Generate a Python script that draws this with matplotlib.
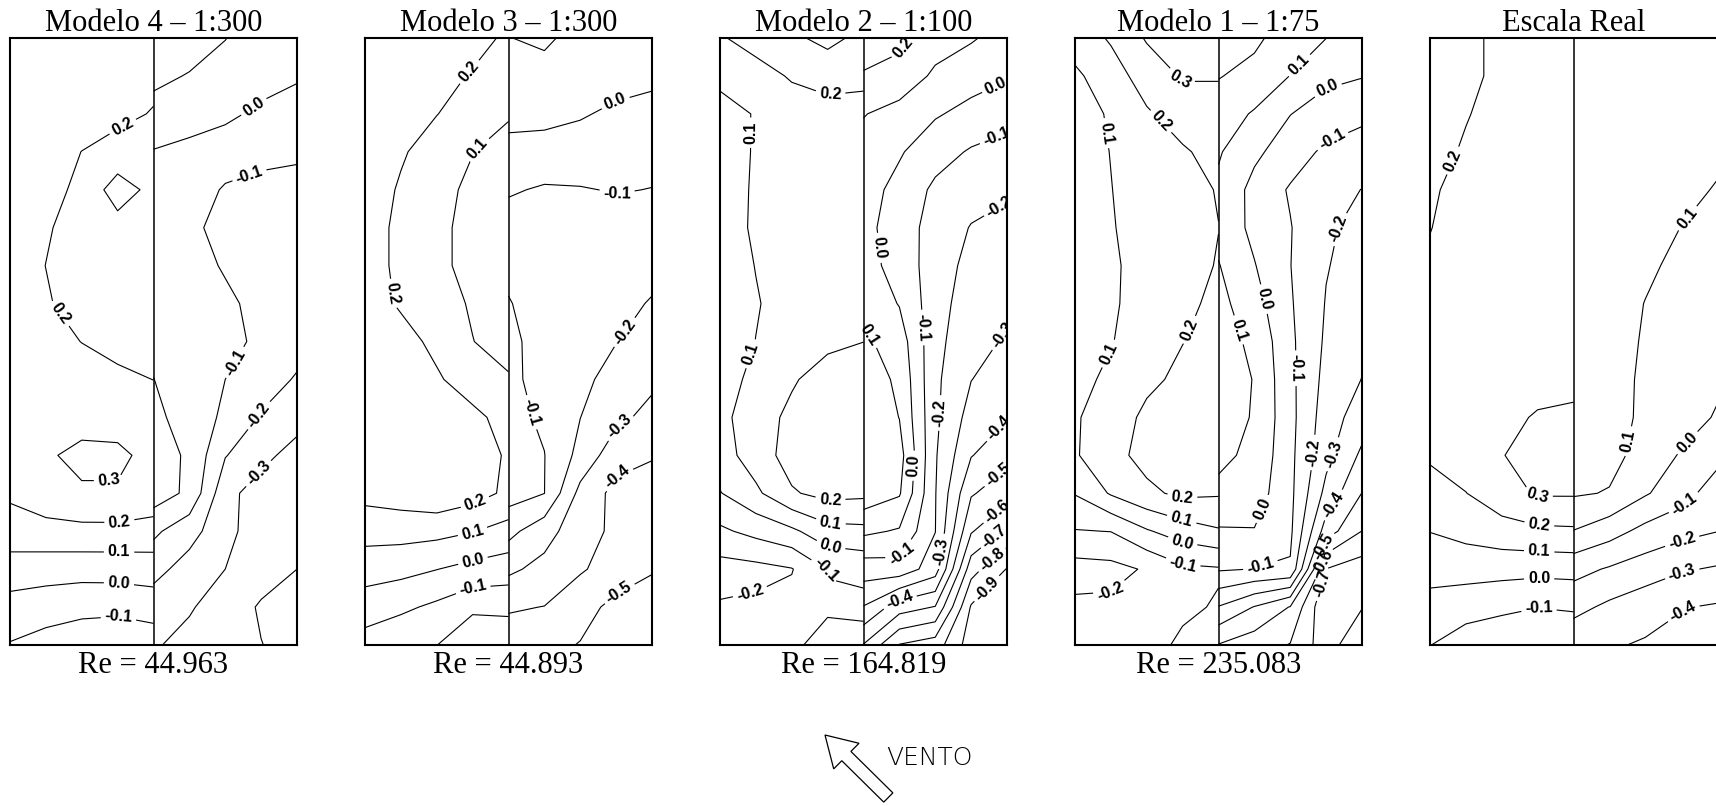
import matplotlib.pyplot as plt
import numpy as np
from matplotlib.patches import FancyArrow

plt.rcParams['font.family'] = ['Liberation Sans', 'DejaVu Sans']
plt.rcParams['font.weight'] = 'bold'
plt.rcParams['contour.negative_linestyle'] = 'solid'

# Cp grids for each facade half: 17 rows (top -> bottom) x 5 columns (left -> right)
m4_left = [
    [0.26, 0.26, 0.25, 0.24, 0.23],
    [0.26, 0.26, 0.25, 0.23, 0.22],
    [0.26, 0.25, 0.24, 0.22, 0.195],
    [0.26, 0.24, 0.199, 0.17, 0.15],
    [0.26, 0.23, 0.18, 0.05, 0.13],
    [0.25, 0.21, 0.16, 0.14, 0.14],
    [0.25, 0.199, 0.15, 0.14, 0.14],
    [0.25, 0.21, 0.16, 0.15, 0.15],
    [0.26, 0.24, 0.198, 0.17, 0.16],
    [0.27, 0.26, 0.25, 0.22, 0.199],
    [0.27, 0.27, 0.27, 0.26, 0.25],
    [0.26, 0.29, 0.32, 0.32, 0.27],
    [0.21, 0.25, 0.29, 0.29, 0.24],
    [0.172, 0.172, 0.172, 0.173, 0.175],
    [0.04, 0.04, 0.04, 0.04, 0.04],
    [-0.028, -0.05, -0.073, -0.07, -0.045],
    [-0.107, -0.142, -0.159, -0.19, -0.173],
]
m4_right = [
    [0.16, 0.14, 0.102, 0.06, 0.03],
    [0.12, 0.095, 0.07, 0.04, 0.01],
    [0.07, 0.05, 0.02, -0.02, -0.04],
    [-0.005, -0.03, -0.05, -0.07, -0.08],
    [-0.02, -0.05, -0.11, -0.13, -0.14],
    [-0.03, -0.08, -0.13, -0.15, -0.15],
    [-0.03, -0.06, -0.11, -0.15, -0.16],
    [-0.03, -0.04, -0.08, -0.13, -0.16],
    [-0.02, -0.03, -0.07, -0.12, -0.16],
    [0.001, -0.04, -0.1, -0.15, -0.21],
    [0.03, -0.053, -0.115, -0.21, -0.26],
    [0.05, -0.016, -0.195, -0.27, -0.34],
    [0.05, -0.02, -0.27, -0.345, -0.37],
    [-0.08, -0.163, -0.267, -0.36, -0.38],
    [-0.168, -0.24, -0.3, -0.36, -0.4],
    [-0.25, -0.29, -0.35, -0.41, -0.44],
    [-0.29, -0.33, -0.37, -0.398, -0.43],
]
m3_left = [
    [0.29, 0.28, 0.26, 0.24, 0.18],
    [0.29, 0.27, 0.24, 0.19, 0.15],
    [0.285, 0.25, 0.202, 0.16, 0.11],
    [0.27, 0.21, 0.16, 0.102, 0.06],
    [0.25, 0.19, 0.13, 0.08, 0.05],
    [0.24, 0.18, 0.115, 0.08, 0.05],
    [0.24, 0.18, 0.115, 0.08, 0.05],
    [0.24, 0.19, 0.14, 0.09, 0.05],
    [0.26, 0.23, 0.18, 0.102, 0.06],
    [0.27, 0.25, 0.21, 0.16, 0.11],
    [0.28, 0.27, 0.25, 0.22, 0.17],
    [0.28, 0.27, 0.26, 0.24, 0.19],
    [0.23, 0.25, 0.276, 0.24, 0.18],
    [0.138, 0.138, 0.13, 0.104, 0.065],
    [0.043, 0.03, 0.002, -0.03, -0.05],
    [-0.049, -0.08, -0.12, -0.175, -0.17],
    [-0.143, -0.18, -0.198, -0.3, -0.29],
]
m3_right = [
    [0.098, 0.115, 0.07, 0.05, 0.04],
    [0.07, 0.07, 0.06, 0.04, 0.02],
    [0.04, 0.03, 0.01, -0.02, -0.03],
    [-0.04, -0.04, -0.05, -0.06, -0.07],
    [-0.09, -0.11, -0.105, -0.095, -0.102],
    [-0.14, -0.15, -0.15, -0.14, -0.14],
    [-0.12, -0.15, -0.16, -0.17, -0.18],
    [-0.095, -0.14, -0.16, -0.18, -0.205],
    [-0.085, -0.125, -0.16, -0.198, -0.23],
    [-0.08, -0.13, -0.18, -0.23, -0.28],
    [-0.07, -0.115, -0.199, -0.275, -0.33],
    [-0.06, -0.098, -0.23, -0.36, -0.39],
    [-0.06, -0.099, -0.33, -0.43, -0.46],
    [-0.172, -0.26, -0.36, -0.42, -0.46],
    [-0.281, -0.33, -0.39, -0.44, -0.49],
    [-0.39, -0.402, -0.46, -0.53, -0.56],
    [-0.45, -0.47, -0.505, -0.56, -0.6],
]
m2_left = [
    [0.19, 0.24, 0.28, 0.33, 0.27],
    [0.12, 0.16, 0.21, 0.23, 0.22],
    [0.07, 0.105, 0.15, 0.17, 0.17],
    [0.06, 0.107, 0.15, 0.17, 0.17],
    [0.06, 0.11, 0.15, 0.17, 0.17],
    [0.06, 0.112, 0.15, 0.17, 0.17],
    [0.06, 0.102, 0.14, 0.17, 0.18],
    [0.06, 0.095, 0.13, 0.17, 0.18],
    [0.06, 0.101, 0.14, 0.18, 0.199],
    [0.05, 0.13, 0.19, 0.24, 0.26],
    [0.07, 0.16, 0.22, 0.27, 0.28],
    [0.055, 0.15, 0.24, 0.28, 0.29],
    [-0.005, 0.08, 0.19, 0.23, 0.22],
    [-0.118, -0.07, -0.02, 0.065, 0.075],
    [-0.24, -0.23, -0.205, -0.095, -0.07],
    [-0.19, -0.18, -0.17, -0.115, -0.13],
    [-0.15, -0.14, -0.12, -0.06, -0.05],
]
m2_right = [
    [0.26, 0.22, 0.15, 0.11, 0.06],
    [0.19, 0.17, 0.08, 0.04, 0.01],
    [0.105, 0.06, 0.01, -0.03, -0.07],
    [0.06, 0.01, -0.06, -0.11, -0.13],
    [0.04, -0.03, -0.12, -0.16, -0.19],
    [0.03, -0.05, -0.14, -0.205, -0.22],
    [0.04, -0.04, -0.15, -0.23, -0.25],
    [0.07, -0.005, -0.16, -0.25, -0.28],
    [0.12, 0.05, -0.17, -0.27, -0.31],
    [0.16, 0.08, -0.18, -0.298, -0.35],
    [0.19, 0.098, -0.18, -0.34, -0.395],
    [0.19, 0.14, -0.19, -0.395, -0.47],
    [0.16, 0.11, -0.195, -0.49, -0.56],
    [0.02, -0.01, -0.198, -0.59, -0.72],
    [-0.15, -0.14, -0.25, -0.76, -0.905],
    [-0.305, -0.455, -0.505, -0.91, -0.98],
    [-0.505, -0.705, -0.75, -0.95, -1.0],
]
m1_left = [
    [0.15, 0.21, 0.31, 0.34, 0.36],
    [0.08, 0.16, 0.24, 0.31, 0.305],
    [0.06, 0.11, 0.19, 0.24, 0.27],
    [0.06, 0.102, 0.15, 0.19, 0.23],
    [0.06, 0.098, 0.14, 0.17, 0.205],
    [0.06, 0.095, 0.13, 0.17, 0.199],
    [0.06, 0.09, 0.125, 0.17, 0.205],
    [0.06, 0.09, 0.13, 0.18, 0.22],
    [0.06, 0.095, 0.15, 0.198, 0.23],
    [0.07, 0.12, 0.18, 0.22, 0.24],
    [0.09, 0.15, 0.22, 0.24, 0.25],
    [0.09, 0.17, 0.23, 0.25, 0.25],
    [0.005, 0.11, 0.18, 0.22, 0.21],
    [-0.105, -0.098, -0.01, 0.05, 0.09],
    [-0.24, -0.23, -0.19, -0.12, -0.11],
    [-0.18, -0.18, -0.17, -0.12, -0.09],
    [-0.15, -0.15, -0.14, -0.08, -0.06],
]
m1_right = [
    [0.26, 0.22, 0.15, 0.101, 0.05],
    [0.205, 0.17, 0.098, 0.02, 0.005],
    [0.15, 0.09, 0.002, -0.04, -0.08],
    [0.11, 0.02, -0.05, -0.12, -0.14],
    [0.08, -0.03, -0.11, -0.16, -0.202],
    [0.07, -0.025, -0.095, -0.19, -0.22],
    [0.105, 0.005, -0.098, -0.195, -0.24],
    [0.13, 0.04, -0.09, -0.205, -0.26],
    [0.14, 0.08, -0.08, -0.215, -0.28],
    [0.14, 0.097, -0.075, -0.23, -0.302],
    [0.13, 0.095, -0.07, -0.25, -0.35],
    [0.12, 0.08, -0.075, -0.27, -0.42],
    [0.08, 0.05, -0.075, -0.33, -0.502],
    [-0.01, -0.005, -0.08, -0.45, -0.602],
    [-0.09, -0.102, -0.11, -0.702, -0.75],
    [-0.305, -0.405, -0.505, -0.79, -0.705],
    [-0.505, -0.555, -0.605, -0.755, -0.605],
]
real_left = [
    [0.15, 0.18, 0.22, 0.23, 0.24],
    [0.15, 0.18, 0.22, 0.235, 0.24],
    [0.16, 0.195, 0.23, 0.24, 0.245],
    [0.17, 0.21, 0.235, 0.245, 0.25],
    [0.19, 0.225, 0.24, 0.25, 0.25],
    [0.198, 0.23, 0.245, 0.25, 0.25],
    [0.21, 0.235, 0.25, 0.255, 0.26],
    [0.22, 0.24, 0.255, 0.26, 0.265],
    [0.22, 0.24, 0.26, 0.27, 0.275],
    [0.22, 0.245, 0.265, 0.28, 0.285],
    [0.22, 0.25, 0.285, 0.305, 0.31],
    [0.21, 0.25, 0.298, 0.32, 0.32],
    [0.17, 0.198, 0.26, 0.31, 0.31],
    [0.102, 0.13, 0.16, 0.18, 0.185],
    [0.04, 0.04, 0.035, 0.03, 0.035],
    [-0.04, -0.06, -0.08, -0.098, -0.09],
    [-0.098, -0.15, -0.17, -0.18, -0.17],
]
real_right = [
    [0.19, 0.18, 0.17, 0.16, 0.15],
    [0.19, 0.175, 0.165, 0.155, 0.14],
    [0.185, 0.17, 0.16, 0.145, 0.13],
    [0.18, 0.165, 0.15, 0.13, 0.115],
    [0.18, 0.16, 0.14, 0.12, 0.095],
    [0.175, 0.155, 0.13, 0.099, 0.08],
    [0.17, 0.15, 0.115, 0.08, 0.07],
    [0.17, 0.14, 0.098, 0.07, 0.06],
    [0.17, 0.135, 0.092, 0.07, 0.06],
    [0.17, 0.135, 0.085, 0.065, 0.02],
    [0.17, 0.13, 0.085, 0.05, -0.01],
    [0.16, 0.125, 0.07, -0.01, -0.07],
    [0.11, 0.095, 0.01, -0.06, -0.15],
    [-0.003, -0.06, -0.13, -0.17, -0.198],
    [-0.167, -0.21, -0.25, -0.29, -0.31],
    [-0.27, -0.32, -0.36, -0.395, -0.41],
    [-0.37, -0.39, -0.41, -0.43, -0.44],
]

# contour labels: (level, u, v) with u across the half and v down the facade
m4_left_labels = [(0.2, .77, .139), (0.2, .37, .451), (0.3, .69, .738), (0.2, .76, .794),
                  (0.1, .76, .848), (0.0, .76, .897), (-0.1, .76, .949)]
m4_right_labels = [(0.0, .71, .117), (-0.1, .67, .227), (-0.1, .58, .536),
                   (-0.2, .73, .621), (-0.3, .69, .708)]
m3_left_labels = [(0.2, .71, .052), (0.1, .78, .181), (0.2, .17, .422), (0.2, .77, .767),
                  (0.1, .75, .814), (0.0, .75, .859), (-0.1, .75, .903)]
m3_right_labels = [(0.0, .77, .117), (-0.1, .76, .262), (-0.1, .17, .616), (-0.2, .78, .48),
                   (-0.3, .76, .637), (-0.4, .75, .72), (-0.5, .77, .914)]
m2_left_labels = [(0.2, .77, .096), (0.1, .23, .156), (0.1, .25, .523), (0.2, .77, .767),
                  (0.1, .77, .8), (0.0, .77, .836), (-0.1, .76, .875), (-0.2, .22, .924)]
m2_right_labels = [(0.2, .3, .02), (0.0, .91, .073), (-0.1, .91, .153), (-0.2, .92, .267),
                   (0.0, .065, .347), (0.1, .05, .487), (-0.1, .41, .477), (-0.3, .97, .49),
                   (-0.2, .66, .619), (-0.4, .95, .644), (0.0, .45, .706), (-0.5, .94, .72),
                   (-0.6, .95, .785), (-0.7, .94, .829), (-0.3, .66, .85), (-0.1, .26, .85),
                   (-0.8, .91, .864), (-0.4, .24, .921), (-0.9, .89, .914)]
m1_left_labels = [(0.3, .74, .067), (0.2, .61, .135), (0.1, .24, .156), (0.2, .78, .479),
                  (0.1, .26, .523), (0.2, .74, .764), (0.1, .74, .796), (0.0, .74, .836),
                  (-0.1, .74, .883), (-0.2, .28, .925)]
m1_right_labels = [(0.1, .58, .049), (0.0, .76, .085), (-0.1, .8, .173), (-0.2, .83, .314),
                   (0.0, .32, .43), (0.1, .18, .478), (-0.1, .55, .544), (-0.2, .72, .684),
                   (-0.3, .83, .688), (-0.4, .83, .774), (0.0, .44, .789), (-0.5, .83, .847),
                   (-0.1, .3, .875), (-0.6, .83, .875), (-0.7, .83, .907)]
real_left_labels = [(0.2, .16, .202), (0.3, .75, .767), (0.2, .76, .807), (0.1, .76, .852),
                    (0.0, .76, .893), (-0.1, .76, .936)]
real_right_labels = [(0.1, .79, .296), (0.1, .42, .666), (0.0, .79, .666), (-0.1, .77, .767),
                     (-0.2, .76, .832), (-0.3, .76, .886), (-0.4, .75, .939)]

titles = ['Modelo 4 \u2013 1:300', 'Modelo 3 \u2013 1:300', 'Modelo 2 \u2013 1:100',
          'Modelo 1 \u2013 1:75', 'Escala Real']
reynolds = ['44.963', '44.893', '164.819', '235.083', None]

panels = [
    (m4_left, m4_right, m4_left_labels, m4_right_labels),
    (m3_left, m3_right, m3_left_labels, m3_right_labels),
    (m2_left, m2_right, m2_left_labels, m2_right_labels),
    (m1_left, m1_right, m1_left_labels, m1_right_labels),
    (real_left, real_right, real_left_labels, real_right_labels),
]

u = np.linspace(0, 1, 5)
v = np.linspace(0, 1, 17)
levels = np.round(np.arange(-9, 4) * 0.1, 1)

W, H = 1716, 806
fig = plt.figure(figsize=(W / 100, H / 100), dpi=100)
fig.patch.set_facecolor('white')

panel_left = [10, 365, 720, 1075, 1430]
panel_w = 287
top, bottom = 38, 645


def draw_half(ax, grid, labels, x0):
    z = np.array(grid)
    for lev in levels:
        if not (z.min() < lev < z.max()):
            continue
        # one contour set per level, so each label lands on its own isoline
        cs = ax.contour(x0 + u, v, z, levels=[lev], colors='black', linewidths=0.8)
        spots = [(x0 + lu, lv) for val, lu, lv in labels if np.isclose(val, lev)]
        if spots and len(cs.get_paths()[0].vertices):
            texts = ax.clabel(cs, inline=True, inline_spacing=4, fontsize=11.5,
                              fmt='%.1f', manual=spots)
            for t in texts:
                t.set_fontsize(11.5)
                t.set_fontweight('bold')
                t.set_fontfamily('Liberation Sans')


for i, (left_grid, right_grid, left_lab, right_lab) in enumerate(panels):
    ax = fig.add_axes([panel_left[i] / W, (H - bottom) / H, panel_w / W, (bottom - top) / H])
    ax.set_xlim(0, 2)
    ax.set_ylim(1, 0)
    draw_half(ax, left_grid, left_lab, 0.0)
    draw_half(ax, right_grid, right_lab, 1.0)
    ax.axvline(1.0, color='black', lw=1.1)
    ax.set_xlim(0, 2)
    ax.set_ylim(1, 0)
    ax.set_xticks([])
    ax.set_yticks([])
    for s in ax.spines.values():
        s.set_linewidth(1.5)

# overlay in pixel units for titles, Reynolds numbers and the wind arrow
ov = fig.add_axes([0, 0, 1, 1])
ov.set_xlim(0, W)
ov.set_ylim(H, 0)
ov.axis('off')

for i, title in enumerate(titles):
    cx = panel_left[i] + panel_w / 2
    ov.text(cx, 31, title, ha='center', va='baseline', fontsize=22,
            family='Liberation Serif', fontweight='normal')
    if reynolds[i]:
        ov.text(cx, 673, 'Re = ' + reynolds[i], ha='center', va='baseline', fontsize=22,
                family='Liberation Serif', fontweight='normal')

ov.add_patch(FancyArrow(888.3, 797.5, -63.3, -62.5, width=13, head_width=36,
                        head_length=30, length_includes_head=True,
                        facecolor='white', edgecolor='black', linewidth=0.9))
ov.text(886, 765, 'VENTO', ha='left', va='baseline', fontsize=18,
        family='DejaVu Sans', fontweight='light', color='black')

fig.savefig('out.png', dpi=100, facecolor='white')
